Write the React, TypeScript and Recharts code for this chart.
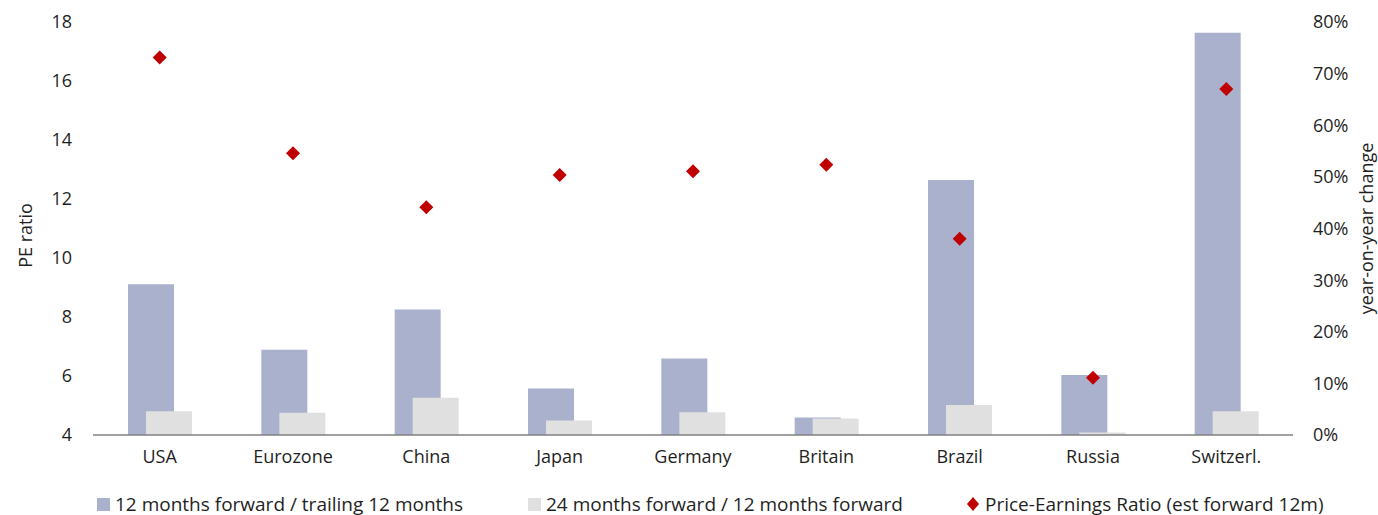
import React from 'react';
import { ComposedChart, Bar, Scatter, XAxis, YAxis } from 'recharts';

// year-on-year change of earnings estimates (%), PE ratio on the left axis
const countries = ['USA', 'Eurozone', 'China', 'Japan', 'Germany', 'Britain', 'Brazil', 'Russia', 'Switzerl.'];
const fwd12VsTrailing12 = [29.2, 16.5, 24.3, 9.0, 14.8, 3.4, 49.4, 11.6, 77.9];
const fwd24VsFwd12 = [4.6, 4.3, 7.2, 2.8, 4.4, 3.2, 5.8, 0.5, 4.6];
const peForward12m = [16.8, 13.55, 11.72, 12.81, 12.94, 13.16, 10.65, 5.94, 15.73];

const peTicks = [4, 6, 8, 10, 12, 14, 16, 18];
const changeTicks = [0, 10, 20, 30, 40, 50, 60, 70, 80];

const seriesNames = [
  '12 months forward / trailing 12 months',
  '24 months forward / 12 months forward',
  'Price-Earnings Ratio (est forward 12m)',
];

const data = countries.map((name, i) => ({
  name,
  fwd12: fwd12VsTrailing12[i],
  fwd24: fwd24VsFwd12[i],
  pe: peForward12m[i],
}));

const BLUE = '#aab1cc';
const GREY = '#e0e0e0';
const RED = '#c00000';
const TEXT = '#1f1f1f';
const FONT = '"Open Sans", sans-serif';

const tickStyle = { fill: TEXT, fontSize: 18, fontFamily: FONT };

const Diamond = (props: any) => {
  const { cx, cy } = props;
  const r = 7;
  return <polygon points={`${cx},${cy - r} ${cx + r},${cy} ${cx},${cy + r} ${cx - r},${cy}`} fill={RED} />;
};

const LegendItem: React.FC<{ left: number; kind: 'square' | 'diamond'; color: string; label: string }> = ({ left, kind, color, label }) => (
  <div style={{ position: 'absolute', left, top: 0, height: 20, display: 'flex', alignItems: 'center' }}>
    {kind === 'square' ? (
      <div style={{ width: 13, height: 13, background: color, marginRight: 5 }} />
    ) : (
      <svg width={16} height={16} style={{ marginRight: 3 }}>
        <polygon points="7,1 13,8 7,15 1,8" fill={color} />
      </svg>
    )}
    <span style={{ fontSize: 19, lineHeight: '20px', color: TEXT, fontFamily: FONT, whiteSpace: 'nowrap' }}>{label}</span>
  </div>
);

export default function App() {
  return (
    <div style={{ position: 'absolute', left: 0, top: 0, width: 1378, height: 515, background: '#fff' }}>
      <ComposedChart
        width={1378}
        height={515}
        data={data}
        margin={{ top: 22, right: 0, bottom: 50, left: 0 }}
        barSize={46}
        barGap={-28}
        style={{ fontFamily: FONT }}
      >
        <XAxis
          dataKey="name"
          interval={0}
          tickLine={false}
          axisLine={{ stroke: '#808080', strokeWidth: 1.3 }}
          tick={tickStyle}
          tickMargin={9}
          height={30}
        />
        <YAxis
          yAxisId="pe"
          orientation="left"
          width={93}
          domain={[4, 18]}
          ticks={peTicks}
          axisLine={false}
          tickLine={false}
          tick={tickStyle}
          tickMargin={15}
          label={{ value: 'PE ratio', angle: -90, position: 'center', dx: -21, dy: 7, fill: TEXT, fontSize: 18, fontFamily: FONT }}
        />
        <YAxis
          yAxisId="chg"
          orientation="right"
          width={85}
          domain={[0, 80]}
          ticks={changeTicks}
          tickFormatter={(v: number) => `${v}%`}
          axisLine={false}
          tickLine={false}
          tick={tickStyle}
          tickMargin={14}
          label={{ value: 'year-on-year change', angle: -90, position: 'center', dx: 31, fill: TEXT, fontSize: 18, fontFamily: FONT }}
        />
        <Bar yAxisId="chg" dataKey="fwd12" name={seriesNames[0]} fill={BLUE} isAnimationActive={false} />
        <Bar yAxisId="chg" dataKey="fwd24" name={seriesNames[1]} fill={GREY} isAnimationActive={false} />
        <Scatter yAxisId="pe" dataKey="pe" name={seriesNames[2]} fill={RED} shape={Diamond} isAnimationActive={false} />
      </ComposedChart>
      <div style={{ position: 'absolute', left: 0, top: 494, width: 1378, height: 20 }}>
        <LegendItem left={97} kind="square" color={BLUE} label={seriesNames[0]} />
        <LegendItem left={528} kind="square" color={GREY} label={seriesNames[1]} />
        <LegendItem left={966} kind="diamond" color={RED} label={seriesNames[2]} />
      </div>
    </div>
  );
}
